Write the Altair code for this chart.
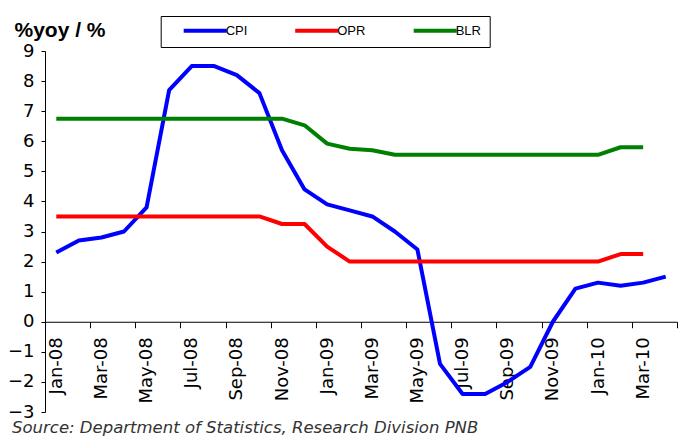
import json
import altair as alt
import pandas as pd

months = ["Jan-08", "Feb-08", "Mar-08", "Apr-08", "May-08", "Jun-08", "Jul-08",
          "Aug-08", "Sep-08", "Oct-08", "Nov-08", "Dec-08", "Jan-09", "Feb-09",
          "Mar-09", "Apr-09", "May-09", "Jun-09", "Jul-09", "Aug-09", "Sep-09",
          "Oct-09", "Nov-09", "Dec-09", "Jan-10", "Feb-10", "Mar-10", "Apr-10"]

cpi = [2.3, 2.7, 2.8, 3.0, 3.8, 7.7, 8.5, 8.5, 8.2, 7.6, 5.7, 4.4, 3.9, 3.7,
       3.5, 3.0, 2.4, -1.4, -2.4, -2.4, -2.0, -1.5, 0.0, 1.1, 1.3, 1.2, 1.3, 1.5]

opr = [3.5, 3.5, 3.5, 3.5, 3.5, 3.5, 3.5, 3.5, 3.5, 3.5, 3.25, 3.25, 2.5, 2.0,
       2.0, 2.0, 2.0, 2.0, 2.0, 2.0, 2.0, 2.0, 2.0, 2.0, 2.0, 2.25, 2.25, None]

blr = [6.75, 6.75, 6.75, 6.75, 6.75, 6.75, 6.75, 6.75, 6.75, 6.75, 6.75, 6.53,
       5.92, 5.75, 5.7, 5.55, 5.55, 5.55, 5.55, 5.55, 5.55, 5.55, 5.55, 5.55,
       5.55, 5.8, 5.8, None]

series_names = ["CPI", "OPR", "BLR"]
series_colors = ["#0000FF", "#FF0000", "#008000"]
y_ticks = [-3, -2, -1, 0, 1, 2, 3, 4, 5, 6, 7, 8, 9]
y_title = "%yoy / %"
source_note = ["Source:  Department of Statistics, Research Division PNB"]

rows = []
for name, vals in zip(series_names, [cpi, opr, blr]):
    for m, v in zip(months, vals):
        rows.append({"month": m, "series": name, "value": v})
df = pd.DataFrame(rows)

W, H = 632, 361
y_min, y_max = -3, 9
zero_offset = (y_max - 0) / (y_max - y_min) * H - H  # move x axis to y = 0

label_months = months[0::2]
tick_months = months[1::2]

x_axis = alt.Axis(
    title=None, orient="bottom", offset=zero_offset, tickBand="extent",
    labelAngle=-90, labelFont="DejaVu Sans", labelFontSize=18, labelColor="black",
    labelPadding=9, labelOverlap=False, tickSize=6, tickColor="black",
    tickWidth=1, domainColor="black", domainWidth=1, grid=False,
    labelExpr=f"indexof({json.dumps(label_months)}, datum.value) >= 0 ? datum.label : ''",
    tickOpacity={"condition": {"test": f"datum.index < 0 || indexof({json.dumps(tick_months)}, datum.value) >= 0",
                               "value": 1}, "value": 0},
)

y_axis = alt.Axis(
    values=y_ticks, format="d", title=y_title, titleAngle=0, titleAlign="left",
    titleBaseline="alphabetic", titleX=-31, titleY=-14.5, titleFont="Liberation Sans",
    titleFontSize=21, titleFontWeight="bold", titleColor="black",
    labelFont="DejaVu Sans", labelFontSize=18, labelColor="black", labelPadding=7,
    tickSize=4, tickColor="black", domainColor="black", grid=False,
)

legend = alt.Legend(
    title=None, orient="none", legendX=115.7, legendY=-35, direction="horizontal",
    symbolType="M-5,0H5", symbolSize=74, symbolStrokeWidth=4, symbolOffset=30,
    labelFont="Liberation Sans", labelFontSize=13, labelColor="black", labelOffset=14,
    columnPadding=32.5, padding=8, strokeColor="black", fillColor="white",
)

lines = alt.Chart(df).mark_line(strokeWidth=4, strokeJoin="round").encode(
    x=alt.X("month:N", sort=months, bandPosition=0.5,
            scale=alt.Scale(type="band", paddingInner=0, paddingOuter=0),
            axis=x_axis),
    y=alt.Y("value:Q", scale=alt.Scale(domain=[y_min, y_max], nice=False, zero=False),
            axis=y_axis),
    color=alt.Color("series:N", sort=series_names,
                    scale=alt.Scale(domain=series_names, range=series_colors),
                    legend=legend),
)

note_df = pd.DataFrame({"note": source_note})
note = alt.Chart(note_df).mark_text(
    align="left", baseline="alphabetic", font="DejaVu Sans", fontSize=16.5,
    fontStyle="italic", color="#333333",
).encode(x=alt.value(-33), y=alt.value(382.3), text="note:N")

chart = alt.layer(lines, note).properties(
    width=W, height=H,
    autosize=alt.AutoSizeParams(type="none"),
    padding={"left": 37, "top": 43, "right": 3, "bottom": 24},
    background="white",
).configure_view(stroke=None)

chart.save("out.html", embed_options={"renderer": "svg", "actions": False})
